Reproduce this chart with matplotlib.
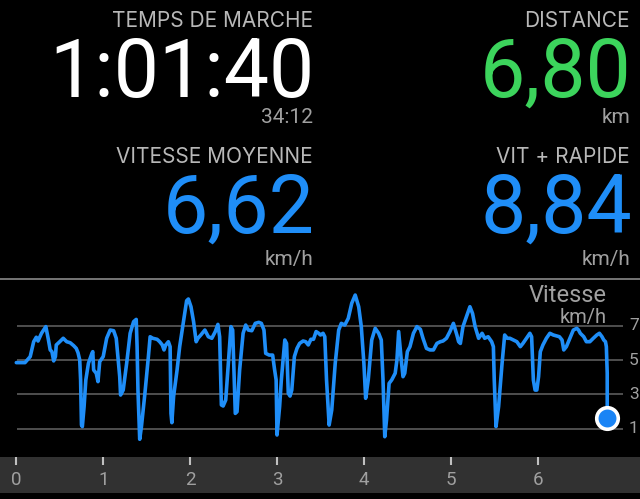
import matplotlib
matplotlib.use("Agg")
import matplotlib.pyplot as plt

plt.rcParams['font.family'] = ['Roboto', 'DejaVu Sans']

# header values
stats = [
    ("TEMPS DE MARCHE", "1:01:40", "34:12"),
    ("DISTANCE", "6,80", "km"),
    ("VITESSE MOYENNE", "6,62", "km/h"),
    ("VIT + RAPIDE", "8,84", "km/h"),
]
stat_colors = ["white", "#3cd45c", "#1f8ef8", "#1f8ef8"]

# speed profile (km, km/h)
km = [0.00, 0.10, 0.16, 0.20, 0.23, 0.25, 0.29, 0.34, 0.37, 0.39, 0.41, 0.43, 0.45, 0.46,
      0.50, 0.54, 0.58, 0.62, 0.66, 0.69, 0.71, 0.73, 0.74, 0.75, 0.76, 0.78, 0.80, 0.83,
      0.87, 0.88, 0.89, 0.92, 0.94, 0.96, 1.00, 1.04, 1.08, 1.12, 1.15, 1.19, 1.20, 1.23,
      1.27, 1.31, 1.35, 1.38, 1.39, 1.40, 1.42, 1.44, 1.48, 1.52, 1.54, 1.57, 1.62, 1.65,
      1.68, 1.70, 1.72, 1.75, 1.77, 1.78, 1.79, 1.81, 1.85, 1.88, 1.92, 1.96, 1.98, 2.01,
      2.04, 2.07, 2.09, 2.13, 2.17, 2.21, 2.25, 2.29, 2.32, 2.34, 2.36, 2.38, 2.41, 2.44,
      2.47, 2.49, 2.52, 2.54, 2.57, 2.61, 2.64, 2.67, 2.71, 2.75, 2.79, 2.82, 2.85, 2.87,
      2.91, 2.95, 2.97, 2.99, 3.00, 3.03, 3.05, 3.09, 3.11, 3.13, 3.15, 3.17, 3.20, 3.23,
      3.26, 3.30, 3.33, 3.36, 3.39, 3.42, 3.45, 3.48, 3.50, 3.53, 3.55, 3.57, 3.60, 3.63,
      3.67, 3.71, 3.74, 3.78, 3.82, 3.86, 3.90, 3.94, 3.97, 4.00, 4.02, 4.05, 4.09, 4.13,
      4.17, 4.20, 4.22, 4.24, 4.26, 4.29, 4.32, 4.36, 4.38, 4.40, 4.43, 4.45, 4.47, 4.50,
      4.53, 4.57, 4.61, 4.65, 4.68, 4.72, 4.76, 4.80, 4.84, 4.88, 4.91, 4.95, 4.99, 5.03,
      5.07, 5.09, 5.11, 5.14, 5.18, 5.22, 5.25, 5.28, 5.32, 5.36, 5.39, 5.43, 5.47, 5.49,
      5.50, 5.52, 5.55, 5.59, 5.62, 5.65, 5.68, 5.72, 5.76, 5.80, 5.83, 5.87, 5.91, 5.93,
      5.95, 5.97, 5.99, 6.01, 6.03, 6.06, 6.10, 6.14, 6.18, 6.22, 6.25, 6.28, 6.30, 6.33,
      6.37, 6.41, 6.45, 6.47, 6.49, 6.53, 6.56, 6.60, 6.64, 6.68, 6.71, 6.74, 6.76, 6.78,
      6.79, 6.80, 6.80]
speed = [4.85, 4.85, 5.20, 6.07, 6.33, 6.11, 6.56, 6.95, 6.17, 5.59, 5.49, 4.95, 5.20, 5.88,
         6.07, 6.27, 6.07, 6.01, 5.84, 5.68, 5.43, 5.00, 3.84, 1.21, 1.12, 2.28, 3.84, 4.81,
         5.39, 5.49, 4.42, 4.23, 3.74, 4.91, 5.20, 6.27, 6.75, 6.71, 6.27, 4.03, 2.96, 3.25,
         4.81, 6.56, 7.24, 7.37, 5.78, 3.25, 0.38, 1.12, 3.06, 5.20, 6.36, 6.27, 6.21, 6.07,
         5.88, 5.59, 5.88, 6.07, 5.78, 1.89, 1.35, 2.87, 4.42, 5.78, 7.14, 8.46, 8.56, 8.11,
         7.24, 6.07, 6.27, 6.50, 6.75, 6.36, 6.27, 6.66, 7.08, 6.36, 2.38, 2.32, 2.67, 4.81,
         6.95, 6.75, 1.89, 1.99, 4.42, 6.56, 7.04, 6.75, 6.71, 7.14, 7.20, 7.14, 6.75, 5.39,
         5.29, 5.29, 4.52, 3.84, 0.63, 2.28, 3.84, 6.17, 5.97, 3.06, 2.90, 3.25, 5.20, 5.68,
         5.97, 6.11, 6.07, 5.88, 6.21, 6.21, 6.66, 6.56, 6.46, 6.56, 6.36, 3.84, 1.21, 2.09,
         4.81, 6.75, 7.14, 7.04, 7.43, 8.31, 8.79, 8.11, 6.95, 4.81, 2.77, 3.84, 6.17, 6.85,
         6.56, 6.17, 3.84, 0.53, 1.50, 3.64, 3.84, 4.23, 5.00, 6.66, 5.00, 4.03, 4.23, 5.49,
         5.78, 6.56, 6.95, 6.79, 6.27, 5.68, 5.59, 5.59, 5.97, 6.07, 6.11, 6.27, 6.66, 7.14,
         6.46, 6.07, 5.97, 6.95, 7.53, 8.11, 7.72, 6.95, 6.27, 6.56, 6.27, 6.36, 6.07, 5.78,
         3.84, 1.12, 2.28, 4.81, 6.46, 6.27, 6.27, 6.17, 6.07, 5.78, 5.97, 6.27, 6.56, 6.36,
         3.84, 3.25, 3.25, 4.03, 5.49, 5.88, 6.27, 6.56, 6.46, 6.40, 6.36, 6.17, 5.59, 5.78,
         6.27, 6.75, 6.85, 6.75, 6.56, 6.36, 6.07, 6.07, 6.27, 6.46, 6.56, 6.36, 6.17, 6.07,
         5.78, 4.23, 1.60]

grid_vals = [1, 3, 5, 7]
x_ticks = [0, 1, 2, 3, 4, 5, 6]

W, H = 640, 499
fig = plt.figure(figsize=(W / 100, H / 100), dpi=100, facecolor="black")

# header stats, right aligned
right_x = [313, 630, 313, 630]
rows = [(27, 97, 123), (27, 97, 123), (163, 233, 265), (163, 233, 265)]
for (label, value, sub), col, rx, (yl, yv, ys) in zip(stats, stat_colors, right_x, rows):
    fig.text(rx / W, 1 - yl / H, label, ha="right", va="baseline", color="#b8b8b8",
             fontsize=15, family=["Inter", "Roboto", "DejaVu Sans"])
    fig.text(rx / W + 0.003, 1 - yv / H, value, ha="right", va="baseline", color=col,
             fontsize=58)
    fig.text(rx / W, 1 - ys / H, sub, ha="right", va="baseline", color="#a0a0a0", fontsize=15)

# divider line
fig.add_artist(plt.Line2D([0, 1], [1 - 279 / H, 1 - 279 / H], color="#8a8a8a", lw=1.2))

# chart area
x0, px_per_km = 16.3, 86.9
y0, px_per_kmh = 445.8, 17.15
top, bottom = 280, 457
ax = fig.add_axes([0, 1 - bottom / H, 1, (bottom - top) / H])
ax.set_facecolor("black")
ax.set_xlim(-x0 / px_per_km, (W - x0) / px_per_km)
ax.set_ylim((y0 - bottom) / px_per_kmh, (y0 - top) / px_per_kmh)
ax.axis("off")

ax.hlines(grid_vals, 17 / W, 623 / W, transform=ax.get_yaxis_transform(),
          color="#5c5c5c", lw=1.2, zorder=1)
for v in grid_vals:
    ax.text(629 / W, v, str(v), transform=ax.get_yaxis_transform(), ha="left",
            va="center", color="#a0a0a0", fontsize=12.5)

ax.plot(km, speed, color="#1f8ef8", lw=2.6, solid_joinstyle="round",
        solid_capstyle="round", zorder=3)
ax.plot(km[-1], speed[-1], "o", ms=15.5, mfc="#1a84f5", mec="white", mew=2.6, zorder=4)

fig.text(607 / W, 1 - 302 / H, "Vitesse", ha="right", va="baseline", color="#a0a0a0", fontsize=17)
fig.text(607 / W, 1 - 323 / H, "km/h", ha="right", va="baseline", color="#a0a0a0", fontsize=14.5)

# distance axis band
bx = fig.add_axes([0, 1 - 493 / H, 1, 36 / H])
bx.set_facecolor("#313131")
bx.set_xlim(ax.get_xlim())
bx.set_ylim(0, 1)
bx.set_yticks([])
for s in bx.spines.values():
    s.set_visible(False)
bx.set_xticks(x_ticks)
bx.set_xticklabels([str(t) for t in x_ticks])
bx.tick_params(axis="x", top=True, bottom=False, direction="in", length=6, width=1.5,
               color="#c0c0c0", labelcolor="#a0a0a0", labelsize=13.5, pad=-16)

fig.savefig("out.png", dpi=100, facecolor="black")
